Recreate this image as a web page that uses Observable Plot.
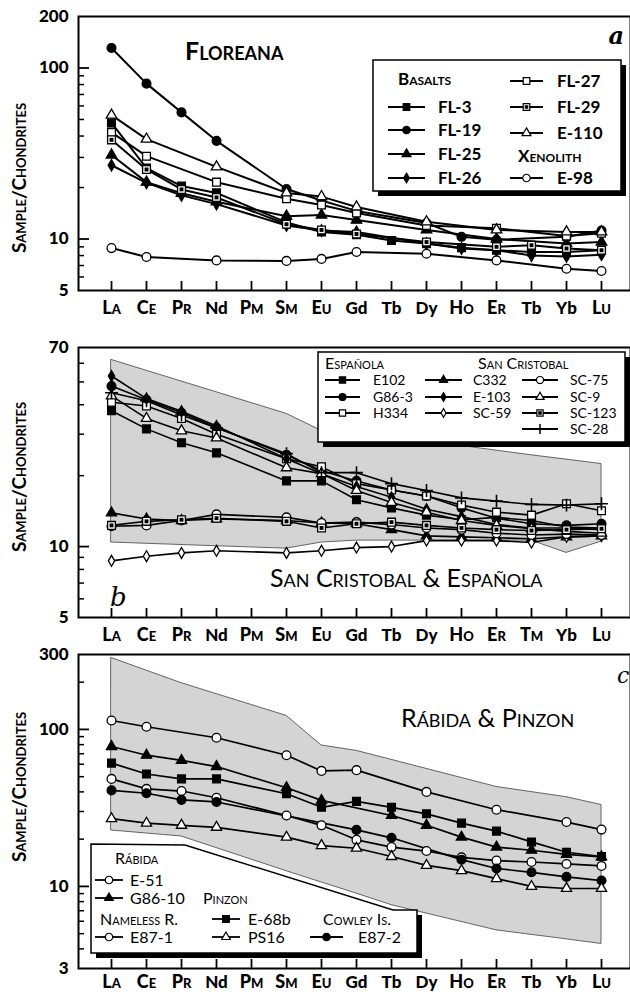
<!DOCTYPE html>
<html><head><meta charset="utf-8">
<script src="https://cdn.jsdelivr.net/npm/d3@7"></script>
<script src="https://cdn.jsdelivr.net/npm/@observablehq/plot@0.6"></script>
<style>
body{margin:0;background:#fff;overflow:hidden}
#wrap{position:relative;width:630px;height:994px}
.panel{position:absolute;left:0}
#overlay{position:absolute;left:0;top:0}
</style></head><body><div id="wrap"></div>
<script>
// ---------- data ----------
const elements = ["La","Ce","Pr","Nd","Pm","Sm","Eu","Gd","Tb","Dy","Ho","Er","Tm","Yb","Lu"];
const tickLabelsA = ["La","Ce","Pr","Nd","Pm","Sm","Eu","Gd","Tb","Dy","Ho","Er","Tb","Yb","Lu"];
const tickLabelsB = ["La","Ce","Pr","Nd","Pm","Sm","Eu","Gd","Tb","Dy","Ho","Er","Tm","Yb","Lu"];
const tickLabelsC = ["La","Ce","Pr","Nd","Pm","Sm","Eu","Gd","Tb","Dy","Ho","Er","Tb","Yb","Lu"];
const lowercaseTicks = ["Nd","Gd","Tb","Dy","Yb"];

// Panel a: Floreana
const fl3  = [47.7, 26.0, 20.4, 18.6, null, 12.5, 11.0, 10.6, 9.8, 9.4, 8.9, 8.6, 8.4, 8.4, 8.6];
const fl19 = [131, 81, 55, 37.5, null, 19.6, 16.8, 14.6, null, 12.4, 10.3, 9.9, null, 10.3, 11.2];
const fl25 = [31, 21.5, 18.5, 16.5, null, 13.6, 13.8, 12.9, null, 11.3, null, 10.0, null, 9.4, 9.6];
const fl26 = [27, 21.3, 18.0, 16.0, null, 12.0, 11.2, 11.0, null, 9.4, 8.8, 8.6, 8.0, 7.9, 8.1];
const fl27 = [42, 30.5, null, 21.5, null, 17.2, 15.8, 14.2, null, 12.0, null, 11.55, null, 10.4, 10.8];
const fl29 = [38, 25.5, 19.5, 17.5, null, 12.2, 11.3, 10.7, null, 9.6, null, 9.0, 9.2, 8.8, 8.6];
const e110 = [53, 38.4, null, 26.4, null, 18.6, 17.7, 15.4, null, 12.6, null, 11.3, null, 11.0, 11.0];
const e98  = [8.85, 7.85, null, 7.5, null, 7.45, 7.65, 8.4, null, 8.2, null, 7.5, null, 6.7, 6.5];

// Panel b: San Cristobal & Española
const e102  = [37.7, 31.6, 27.6, 25.0, null, 19.0, 19.0, 15.8, 14.6, 13.6, 13.0, 13.3, 12.9, 12.1, 12.0];
const g863  = [48, 42, 37, 32, null, 24.5, 21, 19, 17.4, 16.4, 14.6, 13.2, 12.5, 12.3, 12.5];
const h334  = [41, 39.5, 35, 30, null, 23.6, 21.8, 18.5, 17.4, 16.4, 15.0, 14.0, 13.6, 15.2, 14.2];
const c332  = [13.9, 13.1, 12.9, 13.1, null, 12.9, 12.6, 12.5, 11.8, 11.1, 11.0, 10.9, 10.8, 11.0, 11.1];
const e103  = [53, 42.5, 37.5, 32.5, null, 23.6, 20.4, 18.0, 16.2, 14.4, 13.4, 12.4, 12.0, 12.0, 11.8];
const sc59  = [8.7, 9.1, 9.4, 9.6, null, 9.4, 9.6, 9.9, 10.0, 10.6, 10.6, 10.6, 10.4, 11.0, 11.1];
const sc75  = [12.2, 12.3, 12.9, 13.7, null, 13.3, 12.6, 12.7, 12.4, 12.0, 11.8, 11.4, 11.2, 11.3, 11.2];
const sc9   = [43.6, 35, 31, 28.9, null, 21.6, 20.4, 17.3, 15.4, 14.0, 12.9, 12.3, 11.9, 11.6, 11.4];
const sc123 = [12.3, 12.8, 13.0, 13.2, null, 12.8, 12.0, 12.5, 12.7, 12.3, 12.0, 11.8, 11.7, 11.8, 11.9];
const sc28  = [45, 41.6, 36.2, 31.9, null, 24.8, 20.6, 20.6, 18.5, 17.3, 16.1, 15.6, 15.1, 15.0, 15.2];
const envBx  = ["La","Sm","Eu","Gd","Dy","Tm","Yb","Lu"];
const envBhi = [62, 36.6, 31, 30.8, 28, 24.4, 23.4, 22.4];
const envBlo = [10.4, 9.8, 10.4, 10.6, 10.6, 10.6, 9.4, 10.5];

// Panel c: Rábida & Pinzon
const e51   = [114, 104, null, 88.5, null, 68.5, 54.4, 55, null, 40, null, 30.8, null, 25.7, 23];
const g8610 = [77.8, 68.5, 63.5, 58, null, 42.5, 35.3, null, 28.3, 24.5, 20.6, 17.8, 17, 16, 15.4];
const e68b  = [61, 52, 48.4, 48.4, null, 38.9, 31.9, 34.8, 31.9, 29, 25.3, 22.5, 19.2, 16.5, 15.5];
const e871  = [48.4, 41.8, 40.5, 36.7, null, 28.3, 24.5, 19.8, 17.8, 16.8, 15.3, 14.6, 14.3, 13.9, 13.5];
const e872  = [40.9, 39.2, 35.6, 34.5, null, null, null, 22.9, 20.4, null, 14.8, 13.0, 12.3, 11.5, 10.9];
const ps16  = [27, 25.3, 24.5, 23.8, null, 20.6, 18.2, 17.5, 15.5, 13.6, 12.6, 11.2, 10.0, 9.7, 9.7];
const envCx  = ["La","Pr","Sm","Eu","Gd","Tb","Er","Yb","Lu"];
const envChi = [285, 197, 122, 79, 73, 64, 43, 37, 33];
const envClo = [22.7, 20.8, 12.5, 10.6, 9.0, 7.6, 5.25, 4.6, 4.3];

// ---------- styles ----------
const seriesA = [
  {name:"FL-3", values:fl3, symbol:"square", fill:"black"},
  {name:"FL-19", values:fl19, symbol:"circle", fill:"black"},
  {name:"FL-25", values:fl25, symbol:"triangle", fill:"black", r:3.9},
  {name:"FL-26", values:fl26, symbol:"diamond", fill:"black", r:3.5},
  {name:"FL-27", values:fl27, symbol:"square", fill:"white"},
  {name:"FL-29", values:fl29, symbol:"square", fill:"white", inner:true},
  {name:"E-110", values:e110, symbol:"triangle", fill:"white", r:3.9},
  {name:"E-98", values:e98, symbol:"circle", fill:"white"}
];
const seriesB = [
  {name:"E102", values:e102, symbol:"square", fill:"black"},
  {name:"G86-3", values:g863, symbol:"circle", fill:"black"},
  {name:"H334", values:h334, symbol:"square", fill:"white"},
  {name:"C332", values:c332, symbol:"triangle", fill:"black", r:3.8},
  {name:"E-103", values:e103, symbol:"diamond", fill:"black", r:3.3},
  {name:"SC-59", values:sc59, symbol:"diamond", fill:"white", r:3.3},
  {name:"SC-75", values:sc75, symbol:"circle", fill:"white"},
  {name:"SC-9", values:sc9, symbol:"triangle", fill:"white", r:3.8},
  {name:"SC-123", values:sc123, symbol:"square", fill:"white", inner:true},
  {name:"SC-28", values:sc28, symbol:"plus", fill:"none", r:4.2}
];
const seriesC = [
  {name:"E-51", values:e51, symbol:"circle", fill:"white"},
  {name:"G86-10", values:g8610, symbol:"triangle", fill:"black", r:3.8},
  {name:"E-68b", values:e68b, symbol:"square", fill:"black"},
  {name:"E87-1", values:e871, symbol:"circle", fill:"white"},
  {name:"E87-2", values:e872, symbol:"circle", fill:"black"},
  {name:"PS16", values:ps16, symbol:"triangle", fill:"white", r:3.8}
];

const FONT = "Lato, 'Open Sans', sans-serif";

function rowsOf(series) {
  return series.flatMap(s => elements.map((el, i) => ({name: s.name, el, v: s.values[i]})).filter(d => d.v != null));
}

function makePanel(cfg) {
  const rows = rowsOf(cfg.series);
  const marks = [];
  if (cfg.env) {
    const envRows = cfg.env.x.map((el, i) => ({el, hi: cfg.env.hi[i], lo: cfg.env.lo[i]}));
    marks.push(Plot.areaY(envRows, {x: "el", y1: "lo", y2: "hi", fill: "#d4d4d4", stroke: "#555", strokeWidth: 0.9}));
  }
  marks.push(Plot.line(rows, {x: "el", y: "v", z: "name", stroke: "black", strokeWidth: cfg.lw}));
  for (const s of cfg.series) {
    const d = rows.filter(r => r.name === s.name);
    const r = s.r ?? 4.4;
    marks.push(Plot.dot(d, {x: "el", y: "v", symbol: s.symbol, r, fill: s.fill, stroke: "black", strokeWidth: s.symbol === "plus" ? 1.6 : 1.3}));
    if (s.inner) marks.push(Plot.dot(d, {x: "el", y: "v", symbol: "square", r: 2.2, fill: "black"}));
  }
  marks.push(Plot.frame({stroke: "black", strokeWidth: 2}));
  marks.push(Plot.axisY({ticks: cfg.minor, tickSize: -6, tickFormat: () => "", label: null, strokeWidth: 1.5}));
  marks.push(Plot.axisY({ticks: cfg.major, tickSize: -11, tickFormat: () => "", label: null, strokeWidth: 1.8}));
  marks.push(Plot.axisY({ticks: cfg.labels, tickSize: 0, tickPadding: 10, tickFormat: d => String(d), label: null, fontSize: 17, fontWeight: 900, fontFamily: FONT}));
  marks.push(Plot.axisX({tickSize: -9, tickFormat: () => "", label: null, strokeWidth: 1.8}));
  const fmt = el => cfg.xLabels[elements.indexOf(el)];
  const lc = elements.filter(el => lowercaseTicks.includes(fmt(el)));
  const sc = elements.filter(el => !lowercaseTicks.includes(fmt(el)));
  const pad = cfg.xPad ?? 11;
  marks.push(Plot.axisX({ticks: sc, tickSize: 0, tickPadding: pad, tickFormat: fmt, label: null, fontSize: 18, fontWeight: 900, fontFamily: FONT, fontVariant: "small-caps"}));
  marks.push(Plot.axisX({ticks: lc, tickSize: 0, tickPadding: pad, tickFormat: fmt, label: null, fontSize: 17, fontWeight: 900, fontFamily: FONT}));
  const chart = Plot.plot({
    width: 630, height: cfg.height,
    marginLeft: 78, marginRight: 0, marginTop: cfg.mt, marginBottom: cfg.mb,
    style: {fontFamily: FONT, background: "transparent", overflow: "visible"},
    x: {type: "point", domain: elements, insetLeft: 15, insetRight: 12, label: null},
    y: {type: "log", domain: cfg.yDomain, label: null},
    marks
  });
  chart.classList.add("panel");
  chart.style.top = cfg.top + "px";
  document.getElementById("wrap").appendChild(chart);
}

makePanel({series: seriesA, xLabels: tickLabelsA, top: 0, height: 320, mt: 16, mb: 30, lw: 2,
  yDomain: [5, 200], labels: [5, 10, 100, 200], major: [10, 100], minor: [6,7,8,9,20,30,40,50,60,70,80,90]});
makePanel({series: seriesB, xLabels: tickLabelsB, top: 320, height: 327, mt: 27, mb: 30, lw: 1.6,
  env: {x: envBx, hi: envBhi, lo: envBlo},
  yDomain: [5, 70], labels: [5, 10, 70], major: [10], minor: [6,7,8,9,20,30,40,50,60]});
makePanel({series: seriesC, xLabels: tickLabelsC, top: 647, height: 347, mt: 7, mb: 26, lw: 1.7, xPad: 7,
  env: {x: envCx, hi: envChi, lo: envClo},
  yDomain: [3, 300], labels: [3, 10, 100, 300], major: [10, 100], minor: [4,5,6,7,8,9,20,30,40,50,60,70,80,90,200]});

// ---------- overlay: titles, axis labels, legends ----------
const ov = d3.select("#wrap").append("svg").attr("id", "overlay").attr("width", 630).attr("height", 994);
function txt(x, y, s, o = {}) {
  const t = ov.append("text").attr("x", x).attr("y", y).text(s)
    .attr("font-family", o.family || FONT).attr("font-size", o.size || 16)
    .attr("font-weight", o.weight || "normal").attr("font-variant", o.variant || "normal")
    .attr("font-style", o.style || "normal").attr("text-anchor", o.anchor || "start")
    .attr("fill", "black");
  if (o.baseline) t.attr("dominant-baseline", o.baseline);
  if (o.rotate) t.attr("transform", `rotate(-90 ${x} ${y})`);
  return t;
}
const symTypes = {circle: d3.symbolCircle, square: d3.symbolSquare, triangle: d3.symbolTriangle, diamond: d3.symbolDiamond, plus: d3.symbolPlus};
function sym(x, y, s, scale = 0.85) {
  const r = (s.r ?? 4.4) * scale;
  ov.append("path").attr("transform", `translate(${x},${y})`)
    .attr("d", d3.symbol().type(symTypes[s.symbol]).size(Math.PI * r * r)())
    .attr("fill", s.fill).attr("stroke", "black").attr("stroke-width", s.symbol === "plus" ? 1.5 : 1.2);
  if (s.inner) ov.append("path").attr("transform", `translate(${x},${y})`)
    .attr("d", d3.symbol().type(d3.symbolSquare).size(Math.PI * 2 * 2)()).attr("fill", "black");
}
function entry(x1, x2, y, s, label, lx, o) {
  ov.append("line").attr("x1", x1).attr("x2", x2).attr("y1", y).attr("y2", y).attr("stroke", "black").attr("stroke-width", o.lw || 2);
  sym((x1 + x2) / 2, y, s, o.scale || 0.85);
  txt(lx, y + o.size * 0.36, label, {size: o.size, weight: o.weight});
}
function boxShadow(points, off = 5) {
  const p = points.map(d => d.join(",")).join(" ");
  const sp = points.map(d => [d[0] + off, d[1] + off].join(",")).join(" ");
  ov.append("polygon").attr("points", sp).attr("fill", "black");
  ov.append("polygon").attr("points", p).attr("fill", "white").attr("stroke", "black").attr("stroke-width", 1.5);
}
const byName = list => Object.fromEntries(list.map(s => [s.name, s]));
const A = byName(seriesA), B = byName(seriesB), C = byName(seriesC);

// y axis labels
[178, 477, 787].forEach(cy => txt(18, cy, "Sample/Chondrites", {rotate: true, anchor: "middle", size: 19, weight: "bold", variant: "small-caps", baseline: "central"}));

// Panel a
txt(185, 60, "Floreana", {size: 25, weight: "bold", variant: "small-caps"});
txt(624, 44, "a", {size: 24, family: "'DejaVu Serif', serif", style: "italic", anchor: "end", weight: "bold"});
boxShadow([[373, 60], [621, 60], [621, 191], [373, 191]]);
txt(398, 85, "Basalts", {size: 17, weight: "bold", variant: "small-caps"});
const oa = {size: 17, weight: "bold", lw: 2.2};
entry(388, 425, 107, A["FL-3"], "FL-3", 438, oa);
entry(388, 425, 130, A["FL-19"], "FL-19", 438, oa);
entry(388, 425, 154, A["FL-25"], "FL-25", 438, oa);
entry(388, 425, 178, A["FL-26"], "FL-26", 438, oa);
entry(510, 543, 81, A["FL-27"], "FL-27", 557, oa);
entry(510, 543, 107, A["FL-29"], "FL-29", 557, oa);
entry(510, 543, 133, A["E-110"], "E-110", 557, oa);
txt(518, 162, "Xenolith", {size: 17, weight: "bold", variant: "small-caps"});
entry(510, 543, 178, A["E-98"], "E-98", 557, oa);

// Panel b
txt(270, 587, "San Cristobal & Española", {size: 25, variant: "small-caps"});
txt(110, 606, "b", {size: 26, family: "'DejaVu Serif', serif", style: "italic"});
boxShadow([[318, 352], [625, 352], [625, 442], [318, 442]]);
txt(325, 369, "Española", {size: 16, variant: "small-caps"});
txt(478, 369, "San Cristobal", {size: 16, variant: "small-caps"});
const ob = {size: 14, lw: 1.8, scale: 0.8};
entry(325, 360, 380, B["E102"], "E102", 373, ob);
entry(325, 360, 397, B["G86-3"], "G86-3", 373, ob);
entry(325, 360, 413, B["H334"], "H334", 373, ob);
entry(425, 462, 380, B["C332"], "C332", 473, ob);
entry(425, 462, 397, B["E-103"], "E-103", 473, ob);
entry(425, 462, 413, B["SC-59"], "SC-59", 473, ob);
entry(522, 558, 380, B["SC-75"], "SC-75", 570, ob);
entry(522, 558, 397, B["SC-9"], "SC-9", 570, ob);
entry(522, 558, 413, B["SC-123"], "SC-123", 570, ob);
entry(522, 558, 429, B["SC-28"], "SC-28", 570, ob);

// Panel c
txt(401, 727, "Rábida & Pinzon", {size: 25, variant: "small-caps"});
txt(617, 683, "c", {size: 22, family: "'DejaVu Serif', serif", style: "italic"});
boxShadow([[91, 844], [185, 845], [393, 910], [417, 910], [417, 953], [91, 953]]);
const oc = {size: 16, lw: 1.8, scale: 0.85};
txt(115, 864, "Rábida", {size: 16, variant: "small-caps"});
entry(95, 123, 880, C["E-51"], "E-51", 130, oc);
entry(95, 123, 898, C["G86-10"], "G86-10", 130, oc);
txt(203, 904, "Pinzon", {size: 16, variant: "small-caps"});
txt(100, 925, "Nameless R.", {size: 16, variant: "small-caps"});
entry(212, 240, 919, C["E-68b"], "E-68b", 248, oc);
txt(323, 925, "Cowley Is.", {size: 16, variant: "small-caps"});
entry(95, 123, 937, C["E87-1"], "E87-1", 130, oc);
entry(212, 240, 937, C["PS16"], "PS16", 248, oc);
entry(310, 343, 937, C["E87-2"], "E87-2", 358, oc);
</script></body></html>
